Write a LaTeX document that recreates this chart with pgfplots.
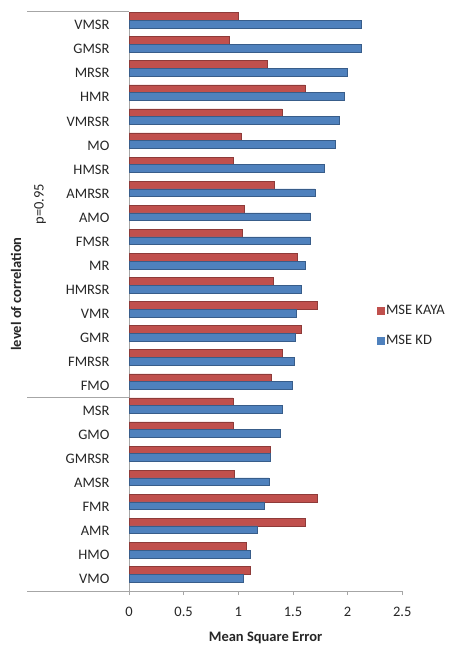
\documentclass[border=0pt]{standalone}
\usepackage{fontspec}
\setmainfont{Carlito}
\usepackage{pgfplots}
\usepackage{pgfplotstable}
\pgfplotsset{compat=1.18}
\definecolor{kaya}{HTML}{C0504D}
\definecolor{kd}{HTML}{4F81BD}
\definecolor{kayaedge}{HTML}{8E3B39}
\definecolor{kdedge}{HTML}{385D8A}
\definecolor{axgray}{HTML}{A6A6A6}
\definecolor{txt}{HTML}{262626}
\newcommand{\tf}{\fontsize{14.5}{17}\selectfont}

\pgfplotstableread{
idx name kaya kd
0 VMO 1.11 1.045
1 HMO 1.07 1.11
2 AMR 1.61 1.17
3 FMR 1.72 1.24
4 AMSR 0.96 1.28
5 GMRSR 1.29 1.29
6 GMO 0.95 1.385
7 MSR 0.95 1.40
8 FMO 1.30 1.49
9 FMRSR 1.40 1.51
10 GMR 1.58 1.525
11 VMR 1.72 1.53
12 HMRSR 1.32 1.58
13 MR 1.54 1.61
14 FMSR 1.04 1.66
15 AMO 1.05 1.66
16 AMRSR 1.33 1.70
17 HMSR 0.95 1.79
18 MO 1.025 1.89
19 VMRSR 1.40 1.92
20 HMR 1.61 1.97
21 MRSR 1.265 2.00
22 GMSR 0.915 2.12
23 VMSR 1.00 2.12
}\data

\begin{document}
\begin{tikzpicture}[x=1pt,y=1pt]
\path[use as bounding box] (0,0) rectangle (455,648);
\begin{axis}[
  at={(129pt,57pt)}, anchor=south west,
  scale only axis, width=273.3pt, height=578pt,
  xbar, bar width=0.32,
  xmin=0, xmax=2.5, ymin=-0.5, ymax=23.5,
  axis x line*=bottom, axis y line*=left,
  axis line style={draw=axgray, line width=0.8pt, -},
  xtick={0,0.5,1,1.5,2,2.5},
  ytick={0,...,23},
  yticklabels from table={\data}{name},
  tick align=outside, major tick length=4pt,
  xtick style={draw=axgray, line width=0.8pt},
  ytick style={draw=none},
  /pgf/number format/assume math mode=true,
  tick label style={font=\tf, text=txt},
  yticklabel style={xshift=-12pt},
  xticklabel style={yshift=-9pt},
  legend style={at={(0.907,0.4585)}, anchor=west, draw=none, fill=none,
    inner sep=0pt, row sep=17pt, font=\tf,
    nodes={inner sep=1pt, text=txt}},
  legend cell align=left,
  legend image code/.code={\path[#1,draw=none] (0pt,-4pt) rectangle (8pt,4pt);},
]
\addplot[fill=kaya, draw=kayaedge, line width=0.5pt, bar shift=0.36] table[x=kaya, y=idx] {\data};
\addplot[fill=kd, draw=kdedge, line width=0.5pt, bar shift=0.04] table[x=kd, y=idx] {\data};
\legend{MSE KAYA, MSE KD}
\end{axis}
\draw[axgray, line width=0.8pt] (27,637) -- (129,637);
\draw[axgray, line width=0.8pt] (27,251) -- (129,251);
\draw[axgray, line width=0.8pt] (27,57) -- (129,57);
\node[rotate=90, font=\tf, text=txt] at (40,444) {p=0.95};
\node[rotate=90, font=\tf\bfseries, text=txt] at (16,354) {level of correlation};
\node[font=\tf\bfseries, text=txt] at (265.6,10) {Mean Square Error};
\end{tikzpicture}
\end{document}
